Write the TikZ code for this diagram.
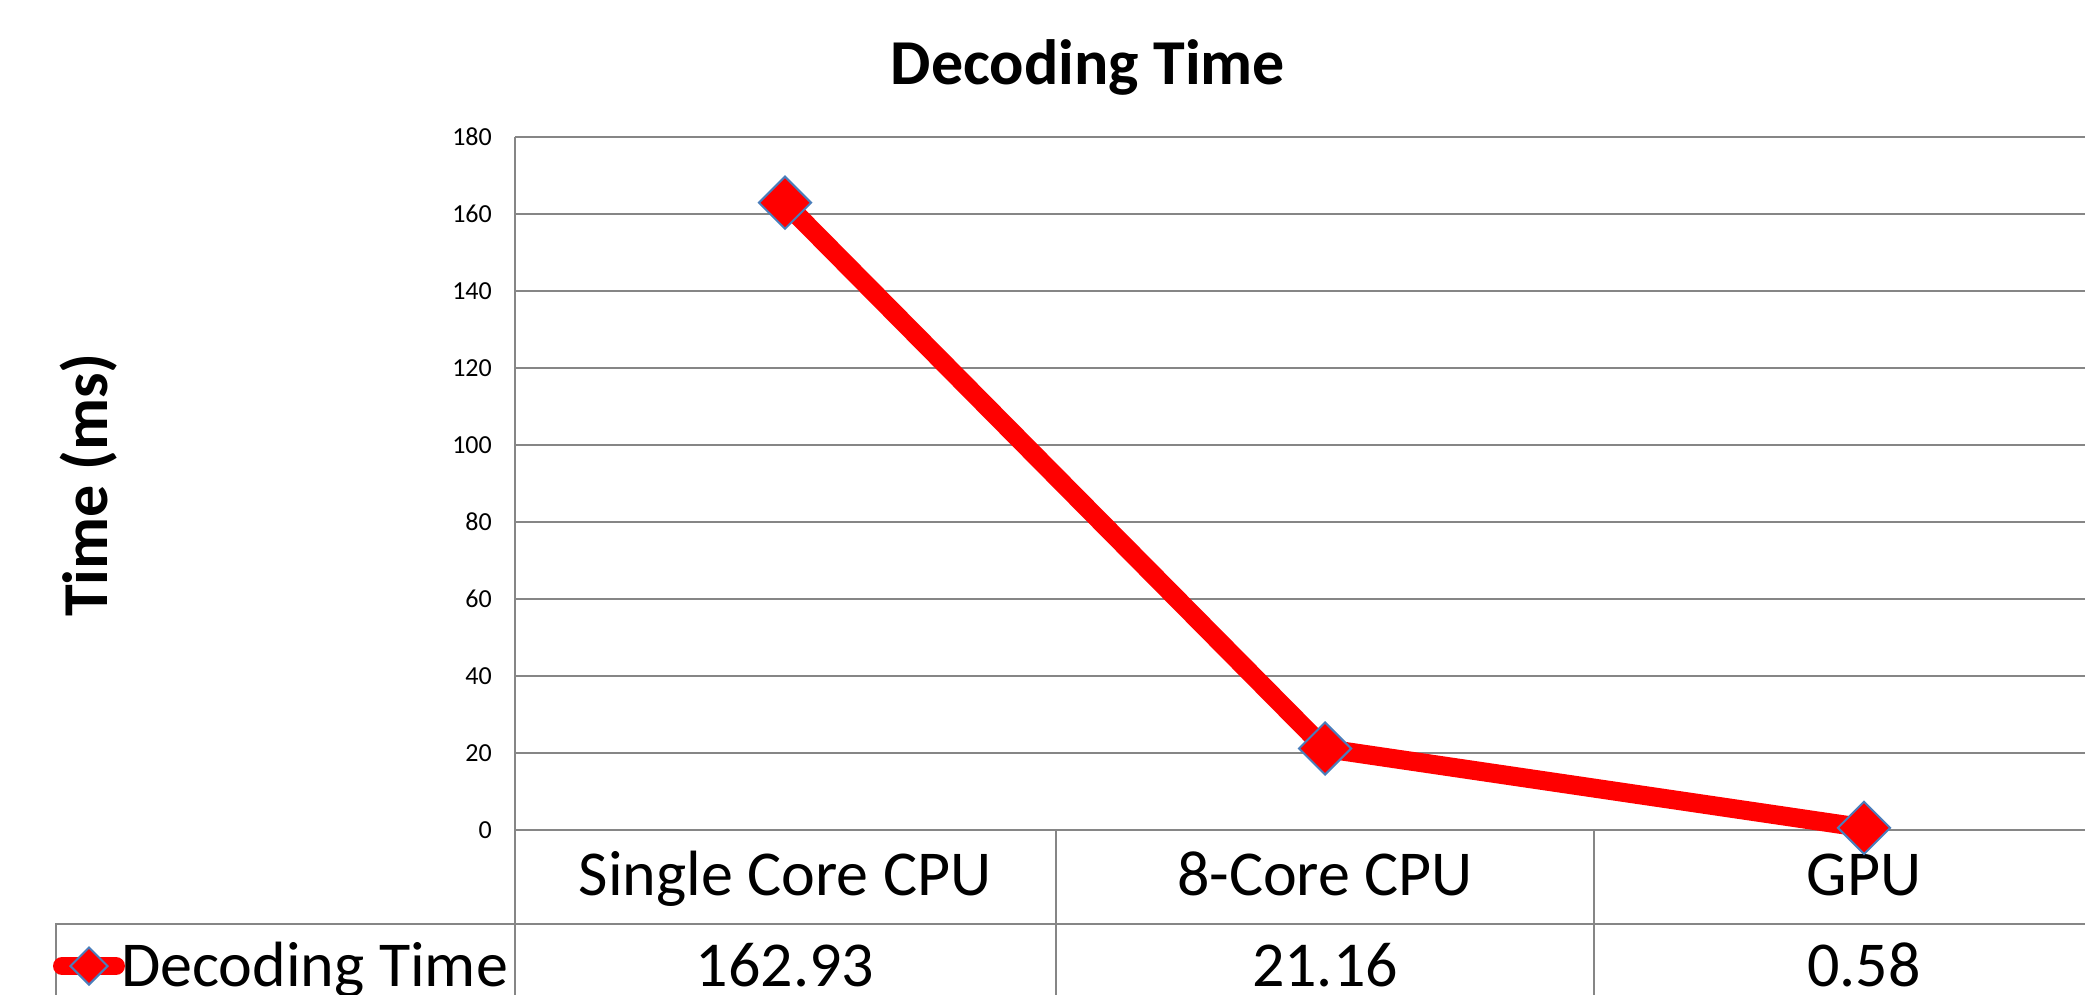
\documentclass[tikz,border=0pt]{standalone}
\usepackage{fontspec}
\setmainfont{Carlito}
\usetikzlibrary{shapes.geometric}
\definecolor{gridgray}{RGB}{134,134,134}
\definecolor{markeredge}{RGB}{74,126,187}
\definecolor{seriesred}{RGB}{255,0,0}
\tikzset{
  grid line/.style={draw=gridgray, line width=2pt},
  tick label/.style={anchor=east, inner sep=0pt, font=\fontsize{26}{30}\selectfont},
  big text/.style={anchor=base, inner sep=0pt, font=\fontsize{64}{74}\selectfont},
  series/.style={draw=seriesred, line width=19pt},
  datamark/.style={diamond, fill=seriesred, draw=markeredge, line width=2pt, inner sep=0pt, minimum width=53pt, minimum height=53pt},
  legendmark/.style={diamond, fill=seriesred, draw=markeredge, line width=2pt, inner sep=0pt, minimum width=38pt, minimum height=38pt},
}
\begin{document}
\begin{tikzpicture}[x=1pt, y=-1pt]
\useasboundingbox (0,0) rectangle (2085,995);
\clip (0,0) rectangle (2085,995);
\fill[white] (0,0) rectangle (2085,995);

% title and axis label
\node[anchor=base, inner sep=0pt, font=\bfseries\fontsize{64}{74}\selectfont] (title) at (1088,85) {Decoding Time};
\node[rotate=90, inner sep=0pt, font=\bfseries\fontsize{64}{74}\selectfont] (ylabel) at (89,485) {Time (ms)};

% grid lines and tick labels
\foreach \v [count=\k from 0] in {0,20,40,60,80,100,120,140,160,180} {
  \coordinate (g\k) at (515,{830-77*\k});
  \coordinate (gr\k) at (2085,{830-77*\k});
  \draw[grid line] (g\k) -- (gr\k);
  \node[tick label] (t\k) at (492,{830-77*\k}) {\v};
}

% axis and table lines
\coordinate (axtop) at (515,137);
\coordinate (axbot) at (515,995);
\draw[grid line] (axtop) -- (axbot);
\coordinate (c2top) at (1056,830);
\coordinate (c2bot) at (1056,995);
\draw[grid line] (c2top) -- (c2bot);
\coordinate (c3top) at (1594,830);
\coordinate (c3bot) at (1594,995);
\draw[grid line] (c3top) -- (c3bot);
\coordinate (rowL) at (56,924);
\coordinate (rowR) at (2085,924);
\coordinate (rowLb) at (56,995);
\draw[grid line] (rowLb) -- (rowL) -- (rowR);

% category labels
\node[big text] (cat1) at (785,895) {Single Core CPU};
\node[big text] (cat2) at (1325,895) {8-Core CPU};
\node[big text] (cat3) at (1864,895) {GPU};

% values
\node[big text] (val1) at (785,986) {162.93};
\node[big text] (val2) at (1325,986) {21.16};
\node[big text] (val3) at (1864,986) {0.58};

% series
\coordinate (p1) at (785,202.7);
\coordinate (p2) at (1325,748.5);
\coordinate (p3) at (1864,827.8);
\draw[series] (p1) -- (p2) -- (p3);
\node[datamark] (m1) at (p1) {};
\node[datamark] (m2) at (p2) {};
\node[datamark] (m3) at (p3) {};

% legend
\coordinate (lg1) at (62,966);
\coordinate (lg2) at (116,966);
\draw[draw=seriesred, line width=18pt, line cap=round] (lg1) -- (lg2);
\node[legendmark] (lgm) at (89,966) {};
\node[big text, anchor=base west] (lgt) at (121,986) {Decoding Time};
\end{tikzpicture}
\end{document}
